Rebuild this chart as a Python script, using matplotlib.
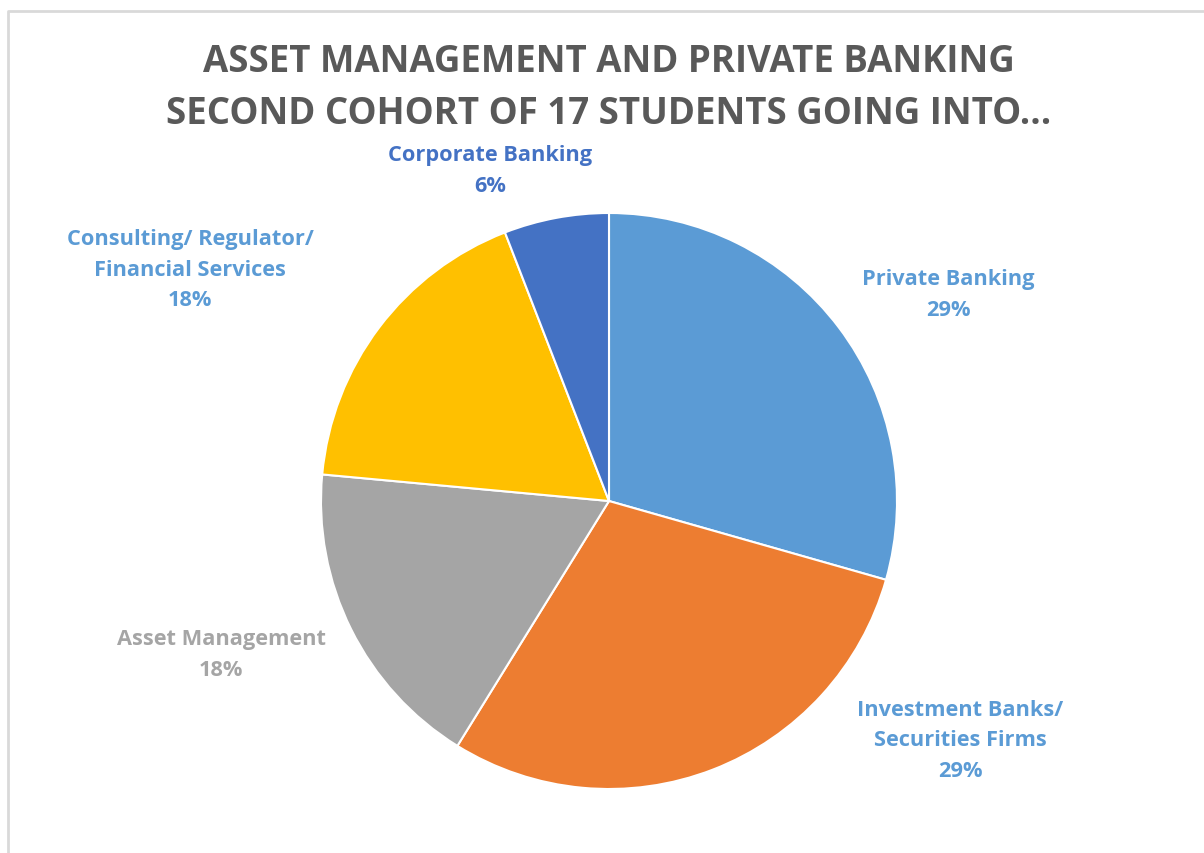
import matplotlib.pyplot as plt

# data: 17 students in the second cohort
categories = ["Private Banking", "Investment Banks/\nSecurities Firms", "Asset Management",
              "Consulting/ Regulator/\nFinancial Services", "Corporate Banking"]
students = [5, 5, 3, 3, 1]

colors = ["#5B9BD5", "#ED7D31", "#A5A5A5", "#FFC000", "#4472C4"]
label_colors = ["#5B9BD5", "#5B9BD5", "#A5A5A5", "#5B9BD5", "#4472C4"]
# label centres in pixel space (x, y from top), placed like Excel's best fit
label_pos = [(948, 295), (960, 741), (221, 655), (190, 270), (490, 171)]

W, H = 1204, 854
fig = plt.figure(figsize=(W / 100, H / 100), dpi=100)
ax = fig.add_axes([0, 0, 1, 1])

ax.pie(students, colors=colors, startangle=90, counterclock=False,
       center=(609, H - 502), radius=288, frame=True,
       wedgeprops=dict(edgecolor="white", linewidth=1.5))
ax.set_xlim(0, W)
ax.set_ylim(0, H)
ax.axis("off")

total = sum(students)
for name, n, c, (px, py) in zip(categories, students, label_colors, label_pos):
    ax.text(px, H - py, f"{name}\n{n / total:.0%}", color=c, ha="center", va="center",
            fontsize=15.7, fontweight="bold", family="Open Sans", linespacing=1.62)

ax.text(609, H - 88, "ASSET MANAGEMENT AND PRIVATE BANKING\nSECOND COHORT OF 17 STUDENTS GOING INTO...",
        color="#595959", ha="center", va="center", fontsize=26.4, fontweight="bold",
        family="Open Sans", linespacing=1.5)

# chart border
ax.plot([8, 8, W + 5], [-5, H - 12, H - 12], color="#D9D9D9", lw=2, clip_on=False)

fig.savefig("out.png", dpi=100)
